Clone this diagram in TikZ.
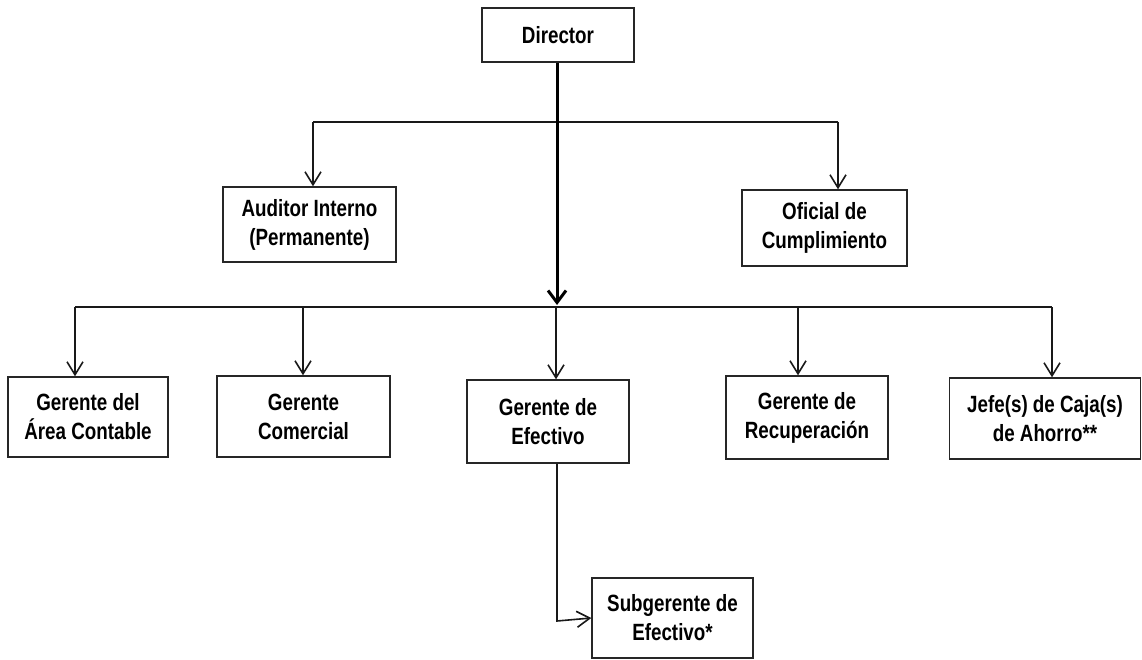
\documentclass[tikz,border=0pt]{standalone}
\usepackage{fontspec}
\setmainfont{Liberation Sans}[FakeStretch=0.8]
\usetikzlibrary{arrows.meta}
\begin{document}
\begin{tikzpicture}[x=1pt,y=1pt,
  box/.style={draw=black!85, line width=1.4pt, fill=white, align=center, inner sep=0pt,
    font=\fontsize{23.5}{29}\selectfont\bfseries},
  conn/.style={draw=black!90, line width=1.6pt},
  arr/.style={conn, -{Straight Barb[length=13pt,width=16pt,line width=1.6pt]}},
  thickarr/.style={draw=black, line width=3pt, -{Straight Barb[length=12pt,width=18pt,line width=3pt]}}
]
\useasboundingbox (0,0) rectangle (1142,-660);
% boxes
\node[box, minimum width=152pt, minimum height=54pt] (dir) at (558,-35) {Director};
\node[box, minimum width=173pt, minimum height=75pt] (aud) at (309.5,-224.5) {Auditor Interno\\(Permanente)};
\node[box, minimum width=165pt, minimum height=76pt] (ofi) at (824.5,-228) {Oficial de\\Cumplimiento};
\node[box, minimum width=160pt, minimum height=80pt] (g1) at (88,-417) {Gerente del\\Área Contable};
\node[box, minimum width=173pt, minimum height=81pt] (g2) at (303.5,-416.5) {Gerente\\Comercial};
\node[box, minimum width=162pt, minimum height=83pt] (g3) at (548,-421.5) {Gerente de\\Efectivo};
\node[box, minimum width=162pt, minimum height=83pt] (g4) at (807,-417.5) {Gerente de\\Recuperación};
\node[box, minimum width=191pt, minimum height=81pt] (g5) at (1045,-418.5) {Jefe(s) de Caja(s)\\de Ahorro**};
\node[box, minimum width=161pt, minimum height=80pt] (sub) at (672.5,-618) {Subgerente de\\Efectivo*};
% bar coordinates
\coordinate (uL) at (313,-122);
\coordinate (uR) at (838,-122);
\coordinate (lL) at (75,-307);
\coordinate (lR) at (1052,-307);
\coordinate (l2) at (303,-307);
\coordinate (l3) at (556,-307);
\coordinate (l4) at (798,-307);
\coordinate (mt) at (557,-305);
\coordinate (sb) at (557,-621);
% upper bar
\draw[conn] (uL) -- (uR);
\draw[arr] (uL) -- (uL |- aud.north);
\draw[arr] (uR) -- (uR |- ofi.north);
% lower bar
\draw[conn] (lL) -- (lR);
\draw[arr] (lL) -- (lL |- g1.north);
\draw[arr] (l2) -- (l2 |- g2.north);
\draw[arr] (l3) -- (l3 |- g3.north);
\draw[arr] (l4) -- (l4 |- g4.north);
\draw[arr] (lR) -- (lR |- g5.north);
% main trunk
\draw[thickarr] (dir.south -| mt) -- (mt);
% sub connector
\draw[arr] (g3.south -| sb) -- (sb) -- (sub.west);
\end{tikzpicture}
\end{document}
